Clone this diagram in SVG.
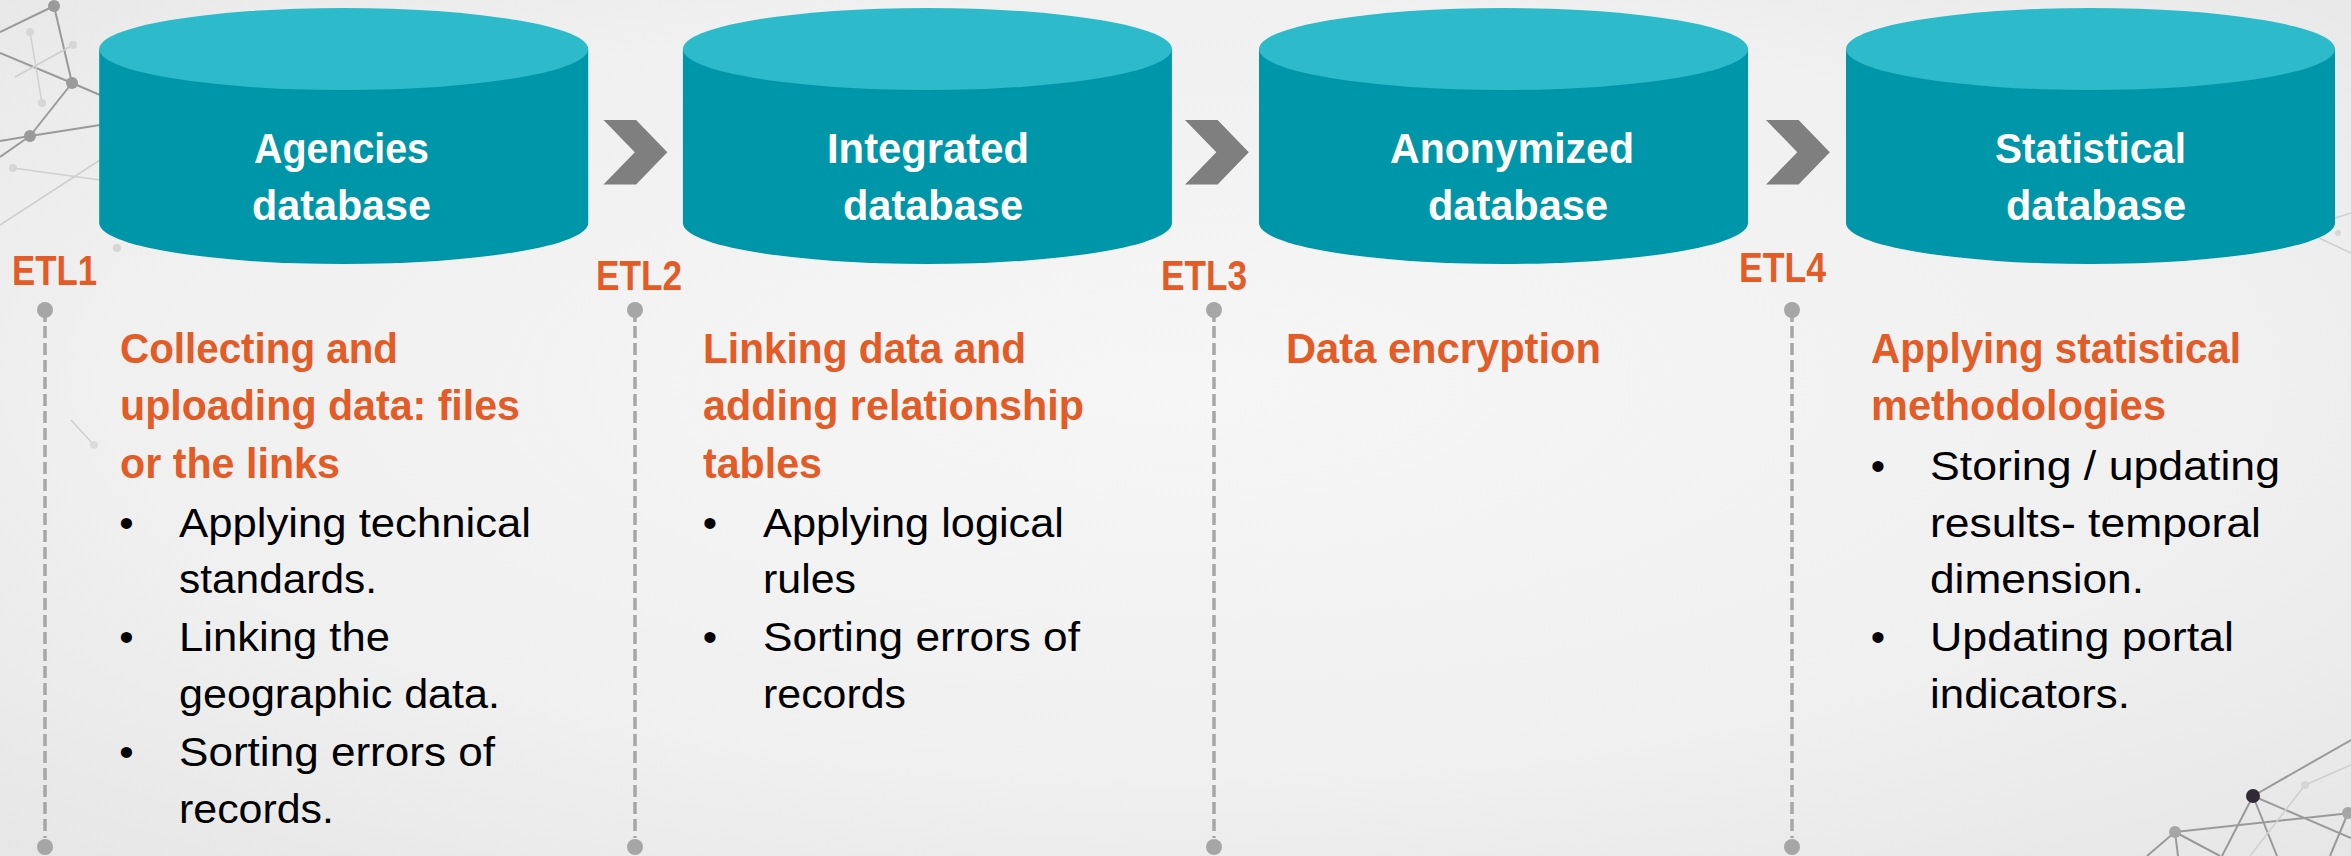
<svg xmlns="http://www.w3.org/2000/svg" xmlns:xlink="http://www.w3.org/1999/xlink" width="2351" height="856" viewBox="0 0 2351 856">
  <defs>
    <radialGradient id="bg" cx="0.5" cy="0.45" r="0.75">
      <stop offset="0" stop-color="#f6f6f6"/>
      <stop offset="0.6" stop-color="#f0f0f0"/>
      <stop offset="1" stop-color="#e6e6e6"/>
    </radialGradient>
    <g id="cyl">
      <path d="M-244.5,49 L-244.5,223 A244.5,41 0 0 0 244.5,223 L244.5,49 Z" fill="#0096AA"/>
      <ellipse cx="0" cy="49" rx="244.5" ry="41" fill="#2DBACA"/>
    </g>
    <path id="chev" d="M0,120 L32.6,120 L63.8,152.2 L32.6,184.4 L0,184.4 L31.3,152.2 Z" fill="#7F7F7F"/>
    <g id="pin">
      <line x1="0" y1="316" x2="0" y2="322" stroke="#A6A6A6" stroke-width="3.5"/>
      <line x1="0" y1="326" x2="0" y2="838" stroke="#A6A6A6" stroke-width="3.5" stroke-dasharray="12,5"/>
      <circle cx="0" cy="310" r="8" fill="#A6A6A6"/>
      <circle cx="0" cy="847" r="8" fill="#A6A6A6"/>
    </g>
  </defs>
  <style>
    .lbl { font-family: "Liberation Sans", Arial, sans-serif; font-weight: bold; font-size: 43px; fill: #FFFFFF; }
    .etl { font-family: "Liberation Sans", Arial, sans-serif; font-weight: bold; font-size: 42px; fill: #E35B27; }
    .ttl { font-family: "Liberation Sans", Arial, sans-serif; font-weight: bold; font-size: 42px; fill: #E35B27; }
    .body { font-family: "Liberation Sans", Arial, sans-serif; font-size: 41px; fill: #000000; }
    .bul { font-family: "Liberation Sans", Arial, sans-serif; font-size: 41px; fill: #000000; text-anchor: middle; }
    .deco line { stroke: #9a9a9a; stroke-width: 2; }
    .deco .f { stroke: #cfcfcf; stroke-width: 1.5; }
  </style>

  <rect x="0" y="0" width="2351" height="856" fill="url(#bg)"/>

  <g id="decoration" class="deco">
    <line x1="54" y1="6" x2="0" y2="32"/>
    <line x1="54" y1="6" x2="72" y2="83"/>
    <line x1="0" y1="53" x2="72" y2="83"/>
    <line x1="72" y1="83" x2="100" y2="95"/>
    <line x1="72" y1="83" x2="30" y2="136"/>
    <line x1="0" y1="141" x2="30" y2="136"/>
    <line x1="30" y1="136" x2="100" y2="125"/>
    <line x1="30" y1="136" x2="0" y2="157"/>
    <line class="f" x1="30" y1="32" x2="42" y2="103"/>
    <line class="f" x1="15" y1="77" x2="73" y2="45"/>
    <line class="f" x1="13" y1="168" x2="100" y2="180"/>
    <line class="f" x1="0" y1="225" x2="100" y2="160"/>
    <line class="f" x1="71" y1="420" x2="94" y2="445"/>
    <circle cx="54" cy="6" r="6" fill="#9a9a9a"/>
    <circle cx="72" cy="83" r="6" fill="#9a9a9a"/>
    <circle cx="30" cy="136" r="6" fill="#9a9a9a"/>
    <circle cx="30" cy="32" r="4" fill="#d6d6d6"/>
    <circle cx="73" cy="45" r="4" fill="#d6d6d6"/>
    <circle cx="42" cy="103" r="4" fill="#d6d6d6"/>
    <circle cx="13" cy="168" r="4" fill="#d6d6d6"/>
    <circle cx="117" cy="248" r="4" fill="#d6d6d6"/>
    <circle cx="94" cy="445" r="4" fill="#dcdcdc"/>

    <line class="f" x1="2351" y1="213" x2="2335" y2="218"/>
    <line class="f" x1="2317" y1="237" x2="2351" y2="253"/>
    <circle cx="2338" cy="233" r="3" fill="#d6d6d6"/>

    <line x1="2253" y1="796" x2="2351" y2="740" stroke="#555" stroke-width="2"/>
    <line x1="2253" y1="796" x2="2351" y2="838" stroke="#555" stroke-width="2"/>
    <line x1="2253" y1="796" x2="2222" y2="856" stroke="#555" stroke-width="2"/>
    <line x1="2253" y1="796" x2="2277" y2="856" stroke="#555" stroke-width="2"/>
    <line x1="2175" y1="832" x2="2351" y2="813"/>
    <line x1="2175" y1="832" x2="2147" y2="856"/>
    <line x1="2175" y1="832" x2="2178" y2="856"/>
    <line x1="2175" y1="832" x2="2220" y2="856"/>
    <line class="f" x1="2305" y1="785" x2="2351" y2="765"/>
    <line class="f" x1="2305" y1="785" x2="2250" y2="856"/>
    <line x1="2348" y1="813" x2="2330" y2="856"/>
    <circle cx="2253" cy="796" r="7" fill="#2f2a33"/>
    <circle cx="2175" cy="832" r="6" fill="#a6a6a6"/>
    <circle cx="2348" cy="813" r="6" fill="#a6a6a6"/>
    <circle cx="2305" cy="785" r="4" fill="#d6d6d6"/>
  </g>

  <g id="connectors">
    <use xlink:href="#chev" href="#chev" x="603.5"/>
    <use xlink:href="#chev" href="#chev" x="1185"/>
    <use xlink:href="#chev" href="#chev" x="1766"/>
    <use xlink:href="#pin" href="#pin" x="45"/>
    <use xlink:href="#pin" href="#pin" x="635"/>
    <use xlink:href="#pin" href="#pin" x="1214"/>
    <use xlink:href="#pin" href="#pin" x="1792"/>
  </g>

  <g id="node-agencies">
    <use xlink:href="#cyl" href="#cyl" transform="translate(343.7,0)"/>
    <text class="lbl" x="254" y="163" textLength="175" lengthAdjust="spacingAndGlyphs">Agencies</text>
    <text class="lbl" x="252" y="220" textLength="179" lengthAdjust="spacingAndGlyphs">database</text>
  </g>
  <g id="node-integrated">
    <use xlink:href="#cyl" href="#cyl" transform="translate(927.4,0)"/>
    <text class="lbl" x="827" y="163" textLength="202" lengthAdjust="spacingAndGlyphs">Integrated</text>
    <text class="lbl" x="843" y="220" textLength="180" lengthAdjust="spacingAndGlyphs">database</text>
  </g>
  <g id="node-anonymized">
    <use xlink:href="#cyl" href="#cyl" transform="translate(1503.5,0)"/>
    <text class="lbl" x="1390" y="163" textLength="244" lengthAdjust="spacingAndGlyphs">Anonymized</text>
    <text class="lbl" x="1428" y="220" textLength="180" lengthAdjust="spacingAndGlyphs">database</text>
  </g>
  <g id="node-statistical">
    <use xlink:href="#cyl" href="#cyl" transform="translate(2090.5,0)"/>
    <text class="lbl" x="1995" y="163" textLength="191" lengthAdjust="spacingAndGlyphs">Statistical</text>
    <text class="lbl" x="2006" y="220" textLength="180" lengthAdjust="spacingAndGlyphs">database</text>
  </g>

  <g id="etl-labels">
    <text class="etl" x="12" y="285" textLength="85" lengthAdjust="spacingAndGlyphs">ETL1</text>
    <text class="etl" x="596" y="290" textLength="86" lengthAdjust="spacingAndGlyphs">ETL2</text>
    <text class="etl" x="1161" y="290" textLength="86" lengthAdjust="spacingAndGlyphs">ETL3</text>
    <text class="etl" x="1739" y="282" textLength="87" lengthAdjust="spacingAndGlyphs">ETL4</text>
  </g>

  <g id="step-1">
    <text class="ttl" x="120" y="363" textLength="278" lengthAdjust="spacingAndGlyphs">Collecting and</text>
    <text class="ttl" x="120" y="420" textLength="400" lengthAdjust="spacingAndGlyphs">uploading data: files</text>
    <text class="ttl" x="120" y="478" textLength="220" lengthAdjust="spacingAndGlyphs">or the links</text>
    <text class="bul" x="126.5" y="537">•</text>
    <text class="body" x="179" y="537" textLength="352" lengthAdjust="spacingAndGlyphs">Applying technical</text>
    <text class="body" x="179" y="593" textLength="198" lengthAdjust="spacingAndGlyphs">standards.</text>
    <text class="bul" x="126.5" y="651">•</text>
    <text class="body" x="179" y="651" textLength="211" lengthAdjust="spacingAndGlyphs">Linking the</text>
    <text class="body" x="179" y="708" textLength="321" lengthAdjust="spacingAndGlyphs">geographic data.</text>
    <text class="bul" x="126.5" y="766">•</text>
    <text class="body" x="179" y="766" textLength="316" lengthAdjust="spacingAndGlyphs">Sorting errors of</text>
    <text class="body" x="179" y="823" textLength="155" lengthAdjust="spacingAndGlyphs">records.</text>
  </g>

  <g id="step-2">
    <text class="ttl" x="703" y="363" textLength="323" lengthAdjust="spacingAndGlyphs">Linking data and</text>
    <text class="ttl" x="703" y="420" textLength="381" lengthAdjust="spacingAndGlyphs">adding relationship</text>
    <text class="ttl" x="703" y="478" textLength="119" lengthAdjust="spacingAndGlyphs">tables</text>
    <text class="bul" x="710" y="537">•</text>
    <text class="body" x="763" y="537" textLength="301" lengthAdjust="spacingAndGlyphs">Applying logical</text>
    <text class="body" x="763" y="593" textLength="93" lengthAdjust="spacingAndGlyphs">rules</text>
    <text class="bul" x="710" y="651">•</text>
    <text class="body" x="763" y="651" textLength="317" lengthAdjust="spacingAndGlyphs">Sorting errors of</text>
    <text class="body" x="763" y="708" textLength="143" lengthAdjust="spacingAndGlyphs">records</text>
  </g>

  <g id="step-3">
    <text class="ttl" x="1286" y="363" textLength="315" lengthAdjust="spacingAndGlyphs">Data encryption</text>
  </g>

  <g id="step-4">
    <text class="ttl" x="1871" y="363" textLength="370" lengthAdjust="spacingAndGlyphs">Applying statistical</text>
    <text class="ttl" x="1871" y="420" textLength="295" lengthAdjust="spacingAndGlyphs">methodologies</text>
    <text class="bul" x="1878" y="480">•</text>
    <text class="body" x="1930" y="480" textLength="350" lengthAdjust="spacingAndGlyphs">Storing / updating</text>
    <text class="body" x="1930" y="537" textLength="331" lengthAdjust="spacingAndGlyphs">results- temporal</text>
    <text class="body" x="1930" y="593" textLength="214" lengthAdjust="spacingAndGlyphs">dimension.</text>
    <text class="bul" x="1878" y="651">•</text>
    <text class="body" x="1930" y="651" textLength="304" lengthAdjust="spacingAndGlyphs">Updating portal</text>
    <text class="body" x="1930" y="708" textLength="200" lengthAdjust="spacingAndGlyphs">indicators.</text>
  </g>
</svg>
